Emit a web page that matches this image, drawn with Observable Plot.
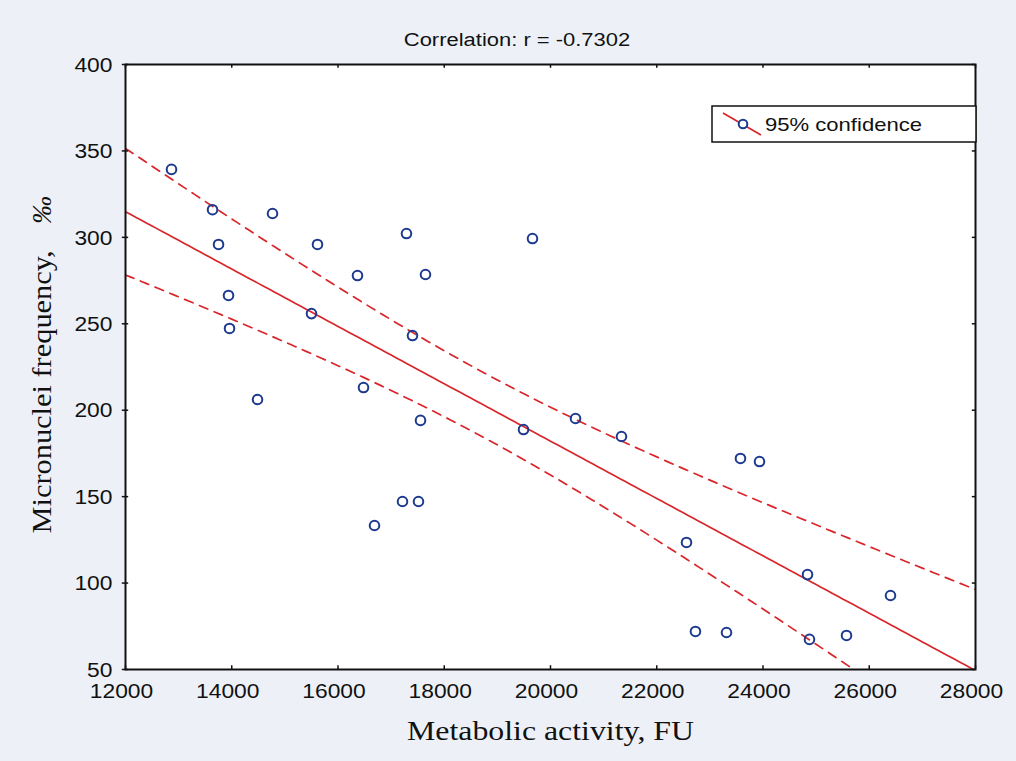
<!DOCTYPE html>
<html>
<head>
<meta charset="utf-8">
<script src="https://cdn.jsdelivr.net/npm/d3@7"></script>
<script src="https://cdn.jsdelivr.net/npm/@observablehq/plot@0.6"></script>
<style>
  html, body { margin: 0; padding: 0; background: #edf1f7; }
  #wrap { width: 1016px; height: 761px; position: relative; }
  #title { height: 50px; width: 1016px; text-align: center; font-family: "Liberation Sans", Arial, sans-serif; font-size: 18px; line-height: 18px; color: #111; position: relative; }
  #title span { position: absolute; top: 31px; left: 517px; transform: translateX(-50%) scaleX(1.22); white-space: nowrap; }
</style>
</head>
<body>
<div id="wrap">
  <div id="title"><span>Correlation: r = -0.7302</span></div>
  <div id="chart"></div>
</div>
<script>
const activity = [12866, 13638, 14767, 13751, 15614, 13939, 13958, 14485, 15501, 16367, 16480, 17289, 17647, 17402, 17553, 16687, 17214, 17515, 19661, 19492, 20471, 21336, 22560, 22729, 23313, 23576, 23934, 24838, 24875, 25572, 26400];
const micronuclei = [339.3, 316.0, 313.8, 295.9, 295.9, 266.4, 247.3, 206.2, 255.9, 277.9, 213.1, 302.2, 278.5, 243.2, 194.1, 133.3, 147.2, 147.2, 299.3, 188.8, 195.2, 184.8, 123.5, 72.0, 71.4, 172.1, 170.3, 104.9, 67.4, 69.7, 92.8];
const xTicks = [12000, 14000, 16000, 18000, 20000, 22000, 24000, 26000, 28000];
const yTicks = [50, 100, 150, 200, 250, 300, 350, 400];
const xLabel = "Metabolic activity, FU";
const yLabel = "Micronuclei frequency,";
const yUnit = "‰";
const legendLabel = "95% confidence";

const points = activity.map((x, i) => ({x, y: micronuclei[i]}));

// least squares fit and 95% confidence band of the mean
const n = points.length;
const mx = d3.mean(activity), my = d3.mean(micronuclei);
const sxx = d3.sum(activity, x => (x - mx) ** 2);
const sxy = d3.sum(points, p => (p.x - mx) * (p.y - my));
const slope = sxy / sxx, intercept = my - slope * mx;
const sse = d3.sum(points, p => (p.y - intercept - slope * p.x) ** 2);
const s = Math.sqrt(sse / (n - 2));
const t = 2.045;
const grid = d3.range(12000, 28001, 100);
const fit = grid.map(x => {
  const yh = intercept + slope * x;
  const h = t * s * Math.sqrt(1 / n + (x - mx) ** 2 / sxx);
  return {x, y: yh, lo: yh - h, hi: yh + h};
});

const red = "#d8262b";
const navy = "#1d3a8f";
const sans = "'Liberation Sans', Arial, sans-serif";
const serif = "'Liberation Serif', 'Times New Roman', serif";

const chart = Plot.plot({
  width: 1016,
  height: 711,
  marginLeft: 125,
  marginRight: 41,
  marginTop: 14,
  marginBottom: 92,
  style: {background: "transparent", color: "#111", fontFamily: sans},
  x: {domain: [12000, 28000]},
  y: {domain: [50, 400]},
  marks: [
    Plot.frame({fill: "white", stroke: null}),
    Plot.line(fit, {x: "x", y: "hi", stroke: red, strokeWidth: 1.7, strokeDasharray: "9,7", clip: true}),
    Plot.line(fit, {x: "x", y: "lo", stroke: red, strokeWidth: 1.7, strokeDasharray: "9,7", clip: true}),
    Plot.line(fit, {x: "x", y: "y", stroke: red, strokeWidth: 1.7, clip: true}),
    Plot.dot(points, {x: "x", y: "y", r: 4.8, stroke: navy, strokeWidth: 2, fill: "none"}),
    Plot.ruleX(xTicks, {y1: 50, y2: 52.2, stroke: "#111", strokeWidth: 1.5}),
    Plot.ruleX(xTicks, {y1: 397.8, y2: 400, stroke: "#111", strokeWidth: 1.5}),
    Plot.ruleY(yTicks, {x1: 11940, x2: 12060, stroke: "#111", strokeWidth: 1.5}),
    Plot.ruleY(yTicks, {x1: 27940, x2: 28000, stroke: "#111", strokeWidth: 1.5}),
    Plot.frame({stroke: "#111", strokeWidth: 2}),
    Plot.axisX(xTicks, {tickSize: 0, tickPadding: 15, fontSize: 19.5, label: null, fontFamily: sans, tickFormat: d => String(d), dx: -4}),
    Plot.axisY(yTicks, {tickSize: 0, tickPadding: 13, fontSize: 19.5, label: null, fontFamily: sans, tickFormat: d => String(d), dy: 1}),
    Plot.text([xLabel], {frameAnchor: "bottom", dy: 70, fontSize: 27.5, fontFamily: serif, fill: "#111"}),
    Plot.text([yLabel], {frameAnchor: "left", rotate: -90, textAnchor: "middle", dx: -83, dy: 25, fontSize: 27.5, fontFamily: serif, fill: "#111"}),
    Plot.text([yUnit], {frameAnchor: "left", rotate: -90, textAnchor: "middle", dx: -83, dy: -157, fontSize: 28, fontFamily: serif, fontStyle: "italic", fill: "#111"})
  ]
});
document.getElementById("chart").appendChild(chart);

const svg = d3.select(chart);
// stretch text horizontally like the reference's wide lettering
svg.selectAll("text").filter(function() { return this.textContent === xLabel; })
  .attr("textLength", 287).attr("lengthAdjust", "spacingAndGlyphs");
svg.selectAll("text").filter(function() { return this.textContent === yLabel; })
  .attr("textLength", 283).attr("lengthAdjust", "spacingAndGlyphs");
svg.selectAll('g[aria-label="x-axis tick label"] text, g[aria-label="y-axis tick label"] text')
  .each(function() {
    const w = this.getComputedTextLength();
    d3.select(this).attr("textLength", w * 1.17).attr("lengthAdjust", "spacingAndGlyphs");
  });

// legend box inside the plot area (top right)
const g = svg.append("g").attr("transform", "translate(712,56)");
g.append("rect").attr("x", 0).attr("y", 0).attr("width", 264).attr("height", 36)
  .attr("fill", "white").attr("stroke", "#111").attr("stroke-width", 1.5);
g.append("line").attr("x1", 11).attr("y1", 7).attr("x2", 49).attr("y2", 29)
  .attr("stroke", red).attr("stroke-width", 1.7);
g.append("circle").attr("cx", 31).attr("cy", 18).attr("r", 4.3)
  .attr("fill", "white").attr("stroke", navy).attr("stroke-width", 2);
g.append("text").attr("x", 53).attr("y", 25).attr("font-size", 18.5)
  .attr("text-anchor", "start").attr("textLength", 157).attr("lengthAdjust", "spacingAndGlyphs")
  .attr("font-family", sans).attr("fill", "#111").text(legendLabel);
</script>
</body>
</html>
